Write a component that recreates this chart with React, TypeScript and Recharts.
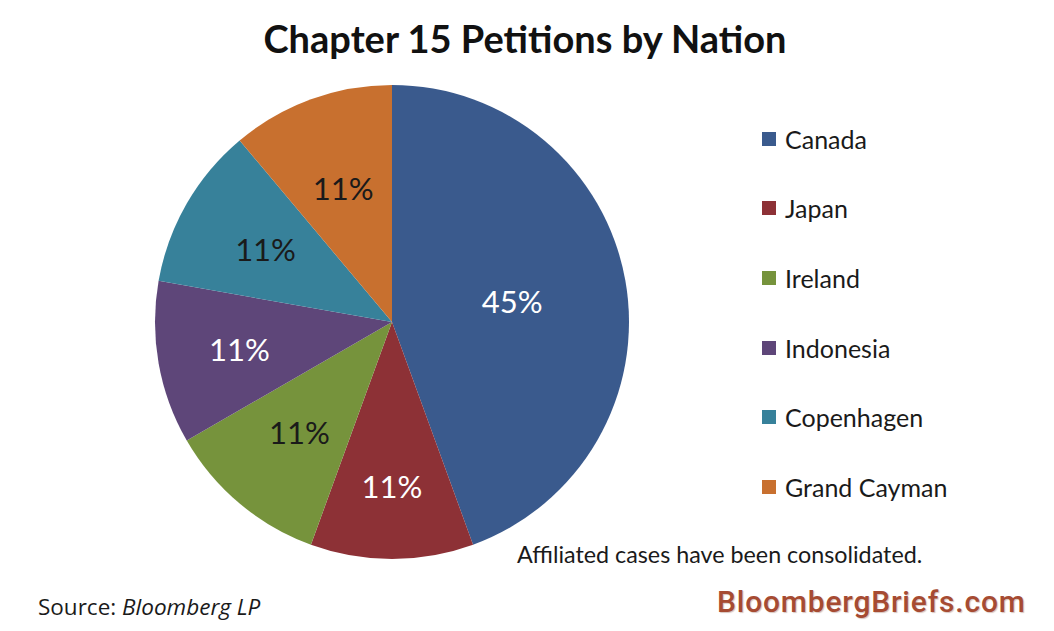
import React from 'react'
import { PieChart, Pie, Cell, Legend } from 'recharts'

const nations = ['Canada', 'Japan', 'Ireland', 'Indonesia', 'Copenhagen', 'Grand Cayman']
const petitions = [4, 1, 1, 1, 1, 1]
const pctLabels = ['45%', '11%', '11%', '11%', '11%', '11%']

const colors = ['#3A5A8D', '#8D3136', '#76933C', '#5E4679', '#37819A', '#C8702F']
const labelColors = ['#fff', '#fff', '#1a1a1a', '#fff', '#1a1a1a', '#1a1a1a']
const labelRadius = [122, 164, 144, 155, 146, 143]

const data = nations.map((name, i) => ({ name, value: petitions[i], label: pctLabels[i] }))

const FONT = 'Lato, "Open Sans", sans-serif'
const RAD = Math.PI / 180

function renderLabel(props: any) {
  const { cx, cy, midAngle, index } = props
  const r = labelRadius[index]
  const x = cx + r * Math.cos(-midAngle * RAD)
  const y = cy + r * Math.sin(-midAngle * RAD)
  return (
    <text x={x} y={y} fill={labelColors[index]} textAnchor="middle" dominantBaseline="central"
      fontSize={31} fontFamily={FONT}>
      {data[index].label}
    </text>
  )
}

function LegendBox() {
  return (
    <div style={{ fontFamily: FONT, fontSize: 25, color: '#1a1a1a' }}>
      {data.map((d, i) => (
        <div key={d.name} style={{ display: 'flex', alignItems: 'center', height: 69.6 }}>
          <span style={{ width: 14, height: 14, background: colors[i], marginRight: 9 }} />
          <span>{d.name}</span>
        </div>
      ))}
    </div>
  )
}

export default function App() {
  return (
    <div style={{ position: 'absolute', left: 0, top: 0, width: 1054, height: 631, background: '#fff', fontFamily: FONT }}>
      <div style={{ position: 'absolute', left: 0, width: 1050, top: 15, textAlign: 'center', fontSize: 38, fontWeight: 700, color: '#111' }}>
        Chapter 15 Petitions by Nation
      </div>
      <PieChart width={1054} height={631} margin={{ top: 0, right: 0, bottom: 0, left: 0 }}>
        <Pie data={data} dataKey="value" nameKey="name" cx={392} cy={322} outerRadius={237}
          startAngle={90} endAngle={-270} stroke="none" labelLine={false} label={renderLabel}
          isAnimationActive={false}>
          {data.map((d, i) => <Cell key={d.name} fill={colors[i]} />)}
        </Pie>
        <Legend content={<LegendBox />} layout="vertical" wrapperStyle={{ position: 'absolute', left: 762, top: 104, width: 280 }} />
      </PieChart>
      <div style={{ position: 'absolute', left: 517, top: 540, fontSize: 23.3, color: '#1a1a1a' }}>
        Affiliated cases have been consolidated.
      </div>
      <div style={{ position: 'absolute', left: 38, top: 591, fontSize: 22.5, color: '#1a1a1a', fontFamily: '"Open Sans", sans-serif' }}>
        Source: <i>Bloomberg LP</i>
      </div>
      <div style={{ position: 'absolute', left: 717, top: 584, fontSize: 30, fontWeight: 500, color: '#A64B32', letterSpacing: 0.8,
        fontFamily: 'Roboto, "Liberation Sans", sans-serif', textShadow: '1px 1px 1px rgba(120,60,40,0.3)' }}>
        BloombergBriefs.com
      </div>
    </div>
  )
}
